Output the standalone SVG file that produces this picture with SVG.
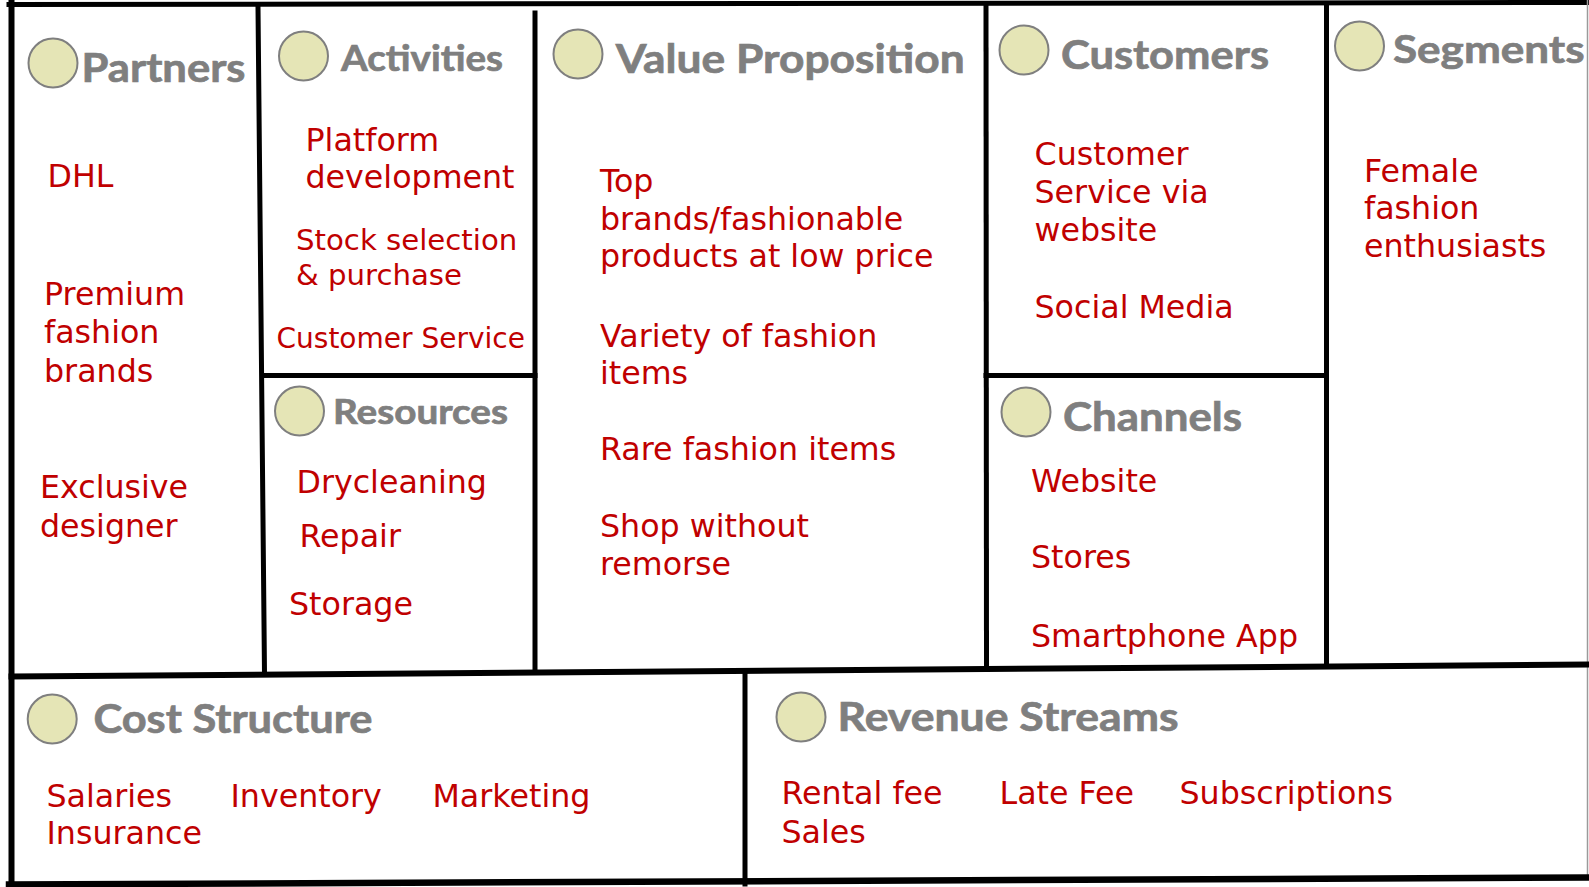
<svg xmlns="http://www.w3.org/2000/svg" width="1589" height="887" viewBox="0 0 1589 887">
  <style>
    .bg { fill: #ffffff; }
    .rule { stroke: #000000; stroke-width: 5; stroke-linecap: square; fill: none; }
    .edge { stroke: #9a9a9a; stroke-width: 1.5; fill: none; }
    .dot { fill: #e5e5b6; stroke: #7f7f7f; stroke-width: 2; }
    .head { font-family: Lato, "Open Sans", "Liberation Sans", sans-serif; font-weight: 700; fill: #7f7f7f; stroke: #7f7f7f; stroke-width: 0.7; }
    .item { font-family: "DejaVu Sans", Verdana, sans-serif; font-size: 31.7px; fill: #c00000; }
    .small { font-size: 29.2px; }
    .smaller { font-size: 28px; }
  </style>

  <rect class="bg" x="0" y="0" width="1589" height="887"/>

  <!-- grid rules of the canvas -->
  <g id="connectors">
    <line class="rule" x1="9" y1="4.5" x2="1589" y2="2.5"/>
    <line class="rule" x1="11.5" y1="3" x2="11.5" y2="887" style="stroke-width:6"/>
    <line class="edge" x1="1587.5" y1="0" x2="1587.5" y2="877"/>
    <line class="rule" x1="258" y1="7" x2="264.5" y2="674"/>
    <line class="rule" x1="535" y1="13" x2="535" y2="671"/>
    <line class="rule" x1="263" y1="375.5" x2="535" y2="375.5"/>
    <line class="rule" x1="986" y1="6" x2="986.5" y2="669"/>
    <line class="rule" x1="986" y1="375.5" x2="1326.5" y2="375.5"/>
    <line class="rule" x1="1326.5" y1="4" x2="1326.5" y2="666"/>
    <line class="rule" x1="11.5" y1="676.5" x2="1589" y2="664.5" style="stroke-width:6"/>
    <line class="rule" x1="745" y1="672" x2="745" y2="884"/>
    <line class="rule" x1="9" y1="884.5" x2="1589" y2="877.5" style="stroke-width:6.5"/>
  </g>

  <g id="partners">
    <circle class="dot" cx="53" cy="63" r="24.5"/>
    <text class="head" x="81.5" y="81.7" font-size="39.5" textLength="164" lengthAdjust="spacingAndGlyphs">Partners</text>
    <text class="item" x="47.5" y="187.3">DHL</text>
    <text class="item" x="44" y="305">Premium</text>
    <text class="item" x="44" y="343.3">fashion</text>
    <text class="item" x="44" y="381.7">brands</text>
    <text class="item" x="40" y="498.3">Exclusive</text>
    <text class="item" x="40" y="536.7">designer</text>
  </g>

  <g id="activities">
    <circle class="dot" cx="303.5" cy="56" r="24.5"/>
    <text class="head" x="341" y="70.7" font-size="36" textLength="162" lengthAdjust="spacingAndGlyphs">Activities</text>
    <text class="item" x="305.5" y="150.7">Platform</text>
    <text class="item" x="305.5" y="188.3">development</text>
    <text class="item small" x="296" y="250">Stock selection</text>
    <text class="item small" x="296" y="285">&amp; purchase</text>
    <text class="item smaller" x="276.5" y="347.7">Customer Service</text>
  </g>

  <g id="resources">
    <circle class="dot" cx="299.5" cy="411" r="24.5"/>
    <text class="head" x="333" y="424" font-size="34.5" textLength="175" lengthAdjust="spacingAndGlyphs">Resources</text>
    <text class="item" x="296.5" y="492.7">Drycleaning</text>
    <text class="item" x="299.5" y="547.3">Repair</text>
    <text class="item" x="289" y="615">Storage</text>
  </g>

  <g id="value-proposition">
    <circle class="dot" cx="578" cy="54" r="24.5"/>
    <text class="head" x="615.7" y="73.3" font-size="39.5" textLength="349" lengthAdjust="spacingAndGlyphs">Value Proposition</text>
    <text class="item" x="600" y="191.7">Top</text>
    <text class="item" x="600" y="230">brands/fashionable</text>
    <text class="item" x="600" y="266.7">products at low price</text>
    <text class="item" x="600" y="346.7">Variety of fashion</text>
    <text class="item" x="600" y="384">items</text>
    <text class="item" x="600" y="460">Rare fashion items</text>
    <text class="item" x="600" y="536.7">Shop without</text>
    <text class="item" x="600" y="575">remorse</text>
  </g>

  <g id="customers">
    <circle class="dot" cx="1024" cy="50" r="24.5"/>
    <text class="head" x="1061" y="69.3" font-size="39.5" textLength="208" lengthAdjust="spacingAndGlyphs">Customers</text>
    <text class="item" x="1034.5" y="165">Customer</text>
    <text class="item" x="1034.5" y="203.3">Service via</text>
    <text class="item" x="1034.5" y="240.7">website</text>
    <text class="item" x="1034.5" y="318.3">Social Media</text>
  </g>

  <g id="channels">
    <circle class="dot" cx="1026" cy="412" r="24.5"/>
    <text class="head" x="1063" y="430.7" font-size="40" textLength="179" lengthAdjust="spacingAndGlyphs">Channels</text>
    <text class="item" x="1031" y="491.7">Website</text>
    <text class="item" x="1031" y="568.3">Stores</text>
    <text class="item" x="1031" y="646.7">Smartphone App</text>
  </g>

  <g id="segments">
    <circle class="dot" cx="1359.5" cy="46" r="24.5"/>
    <text class="head" x="1393" y="63.3" font-size="39" textLength="191.6" lengthAdjust="spacingAndGlyphs">Segments</text>
    <text class="item" x="1364" y="181.7">Female</text>
    <text class="item" x="1364" y="219.3">fashion</text>
    <text class="item" x="1364" y="257.3">enthusiasts</text>
  </g>

  <g id="cost-structure">
    <circle class="dot" cx="52.2" cy="719" r="24.5"/>
    <text class="head" x="93.4" y="732.7" font-size="40.5" textLength="279" lengthAdjust="spacingAndGlyphs">Cost Structure</text>
    <text class="item" x="46.5" y="806.7">Salaries</text>
    <text class="item" x="230.5" y="806.7">Inventory</text>
    <text class="item" x="432.5" y="806.7">Marketing</text>
    <text class="item" x="46.5" y="844">Insurance</text>
  </g>

  <g id="revenue-streams">
    <circle class="dot" cx="801" cy="717" r="24.5"/>
    <text class="head" x="837.5" y="730.7" font-size="40" textLength="341" lengthAdjust="spacingAndGlyphs">Revenue Streams</text>
    <text class="item" x="781.5" y="804">Rental fee</text>
    <text class="item" x="999.5" y="804">Late Fee</text>
    <text class="item" x="1179.5" y="804">Subscriptions</text>
    <text class="item" x="781.5" y="842.7">Sales</text>
  </g>
</svg>
